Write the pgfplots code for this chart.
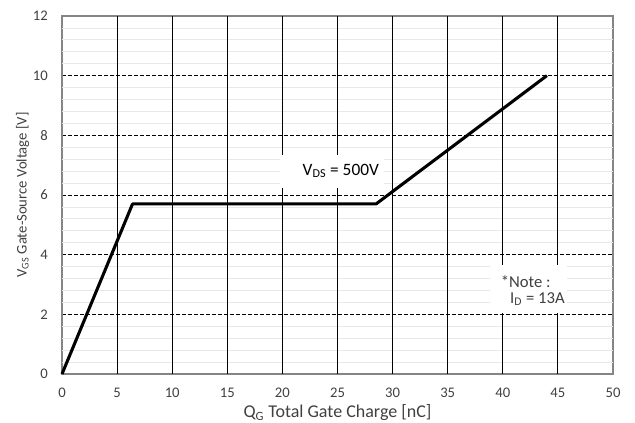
\documentclass[border=0pt]{standalone}
\usepackage{pgfplots}
\pgfplotsset{compat=1.18}
\usepackage{fontspec}
\setmainfont{Carlito}
\definecolor{txt}{HTML}{404040}
\definecolor{frame}{HTML}{858585}
\definecolor{minorg}{HTML}{E8E8E8}
\begin{document}
\fontsize{11pt}{13pt}\selectfont
\begin{tikzpicture}[x=0.75pt,y=0.75pt]
\begin{axis}[
  set layers=standard,
  at={(0,0)}, anchor=south west,
  scale only axis,
  width=413.25pt, height=268.5pt,
  xmin=0, xmax=50, ymin=0, ymax=12,
  xtick={0,5,...,50}, ytick={0,2,...,12},
  /pgf/number format/assume math mode=true,
  tick style={draw=none},
  ticklabel style={font=\fontsize{11pt}{13pt}\selectfont, text=txt},
  xticklabel style={inner sep=0pt, anchor=north, yshift=-10.5pt},
  yticklabel style={inner sep=0pt, anchor=east, xshift=-10.5pt},
  axis line style={frame, line width=0.9pt},
  xmajorgrids=false, ymajorgrids=true,
  y grid style={black, line width=0.7pt, dash pattern=on 3pt off 1.5pt},
  xlabel={Q\textsubscript{G} Total Gate Charge [nC]},
  ylabel={V\textsubscript{GS} Gate-Source Voltage [V]},
  label style={text=txt},
  xlabel style={font=\fontsize{13.5pt}{15pt}\selectfont, at={(axis description cs:0.5,-0.109)}, anchor=center},
  ylabel style={font=\fontsize{11pt}{13pt}\selectfont, at={(axis description cs:-0.0717,0.5)}, anchor=center},
  clip=false,
]
\pgfplotsinvokeforeach{0.4,0.8,1.2,1.6,2.4,2.8,3.2,3.6,4.4,4.8,5.2,5.6,6.4,6.8,7.2,7.6,8.4,8.8,9.2,9.6,10.4,10.8,11.2,11.6}{
  \draw[on layer=axis background, minorg, line width=0.6pt] (axis cs:0,#1) -- (axis cs:50,#1);
}
\pgfplotsinvokeforeach{5,10,...,45}{
  \draw[on layer=axis background, black, solid, line width=0.7pt] (axis cs:#1,0) -- (axis cs:#1,12);
}
\fill[white] (axis cs:19.8,6.24) rectangle (axis cs:29.2,7.34);
\fill[white] (axis cs:38.84,2.04) rectangle (axis cs:45.83,3.65);
\addplot[black, line width=2.3pt, line join=round] coordinates {
  (0,0) (6.4,5.7) (28.5,5.7) (44,10)
};
\node[text=black, inner sep=0pt, font=\fontsize{13pt}{15pt}\selectfont] at (axis cs:25.3,6.8) {V\textsubscript{DS} = 500V};
\node[text=txt, inner sep=0pt, anchor=west, font=\fontsize{12.5pt}{14pt}\selectfont] at (axis cs:39.8,3.08) {*Note :};
\node[text=txt, inner sep=0pt, anchor=west, font=\fontsize{12.5pt}{14pt}\selectfont] at (axis cs:40.65,2.51) {I\textsubscript{D} = 13A};
\end{axis}
\pgfresetboundingbox
\path[use as bounding box] (-46.5pt,-36.75pt) rectangle (429.75pt,280.5pt);
\end{tikzpicture}
\end{document}
